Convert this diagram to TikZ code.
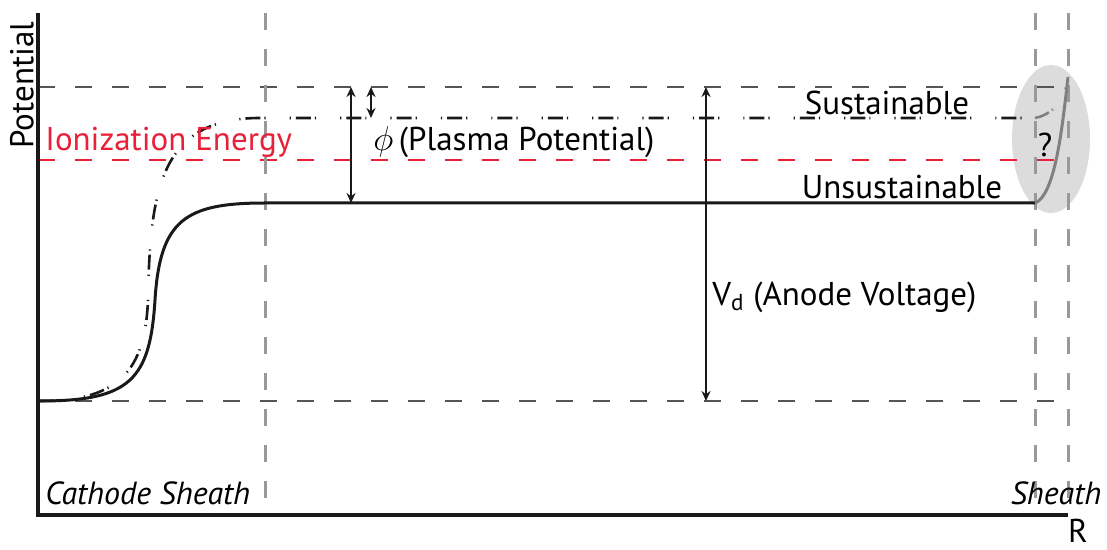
\documentclass[tikz,border=0pt]{standalone}
\usepackage{fontspec}
\setmainfont{PT Sans}
\usetikzlibrary{arrows.meta}
\definecolor{ionred}{HTML}{E8203A}
\definecolor{guide}{HTML}{555555}
\definecolor{sheathgray}{HTML}{999999}
\definecolor{bubble}{HTML}{DCDCDD}
\definecolor{anodegray}{HTML}{808080}

\begin{document}
\begin{tikzpicture}[x=0.5pt, y=-0.5pt,
  axis/.style={line width=2pt, black!90},
  level/.style={line width=0.8pt, guide, dash pattern=on 8.5pt off 10pt},
  sheathline/.style={line width=1.5pt, sheathgray, dash pattern=on 8.5pt off 9.5pt},
  profile/.style={line width=1.5pt, black!90},
  dashdot/.style={line width=1.3pt, black!90,
                  dash pattern=on 7.5pt off 2pt on 0.6pt off 12pt on 0.6pt off 2.5pt},
  span/.style={line width=1pt, black!90,
               {Stealth[length=5pt,width=4.5pt]}-{Stealth[length=5pt,width=4.5pt]}},
  lbl/.style={font=\fontsize{16.5}{20}\selectfont, inner sep=0pt},
  slbl/.style={lbl, font=\fontsize{16}{20}\selectfont\itshape},
]
\useasboundingbox (0,0) rectangle (1107,550);

% anode sheath region
\fill[bubble] (1051,139) ellipse [x radius=39, y radius=74];

% reference levels and sheath edges
\draw[level] (38,87) -- (1070,87);
\draw[level, ionred] (38,160) -- (1070,160);
\draw[level] (38,401) -- (1070,401);
\draw[sheathline] (265,13) -- (265,515);
\draw[sheathline] (1035,13) -- (1035,512);
\draw[sheathline] (1068,13) -- (1068,512);

% axes
\draw[axis] (38,13) -- (38,515) -- (1068,515);

% potential profiles
\draw[profile] (40,401) .. controls (130,401) and (150,380) .. (155,300)
  .. controls (160,220) and (185,203) .. (265,203) -- (1035,203);
\draw[profile, anodegray] (1035,203) .. controls (1055,195) and (1062,130) .. (1068,77);
\draw[dashdot] (40,401) .. controls (120,401) and (145,370) .. (148,300)
  .. controls (150,190) and (160,118) .. (260,118) -- (1035,118);
\draw[dashdot, anodegray] (1035,118) .. controls (1050,115) and (1062,105) .. (1068,80);

% spans
\coordinate (phiTop) at (351,87);
\coordinate (phiBot) at (351,203);
\coordinate (gapTop) at (371,87);
\coordinate (gapBot) at (371,118);
\coordinate (vdTop) at (706,87);
\coordinate (vdBot) at (706,401);
\draw[span] (phiTop) -- (phiBot);
\draw[span] (gapTop) -- (gapBot);
\draw[span] (vdTop) -- (vdBot);

% labels
\node[lbl, rotate=90] (pot) at (22,85) {Potential};
\node[lbl, ionred, anchor=west] (ion) at (45,142) {Ionization Energy};
\node[lbl, anchor=west] (phi) at (373,142) {$\phi$\,(Plasma Potential)};
\node[lbl] (sus) at (887,103) {Sustainable};
\node[lbl] (unsus) at (902,187) {Unsustainable};
\node[lbl, anchor=west] (vd) at (712,297) {V\textsubscript{d} (Anode Voltage)};
\node[lbl] (q) at (1045,145) {?};
\node[slbl, anchor=west] (cath) at (45,493) {Cathode Sheath};
\node[slbl] (sheath) at (1056,493) {Sheath};
\node[lbl] (r) at (1078,531) {R};

\end{tikzpicture}
\end{document}
